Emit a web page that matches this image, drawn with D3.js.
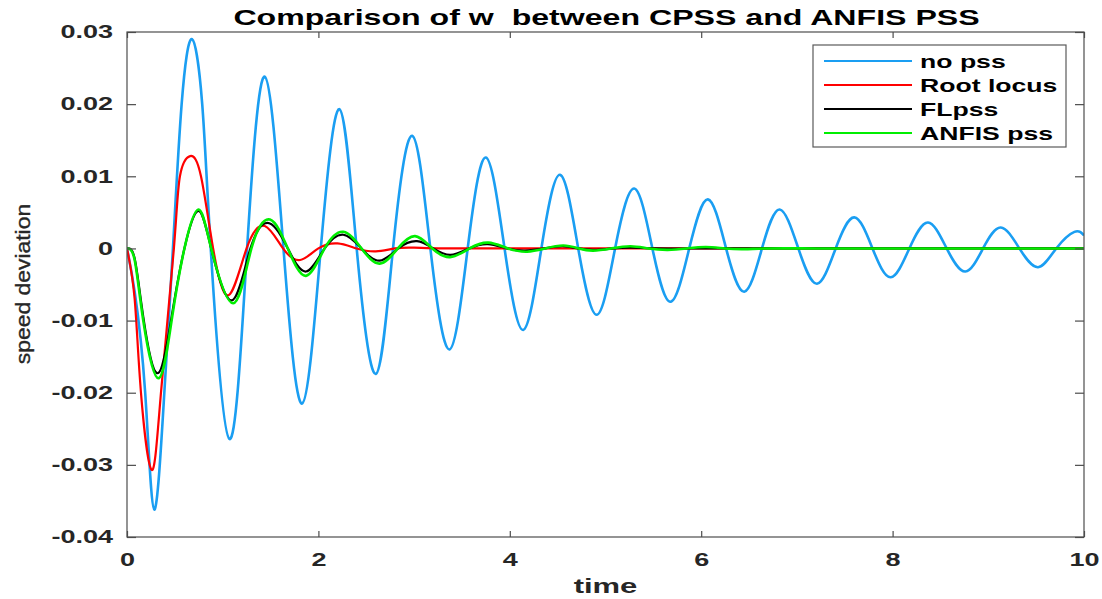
<!DOCTYPE html>
<html>
<head>
<meta charset="utf-8">
<script src="https://cdn.jsdelivr.net/npm/d3@7"></script>
<style>
  html, body { margin: 0; padding: 0; background: #fff; }
  svg { display: block; }
  text { font-family: "Liberation Sans", Arial, Helvetica, sans-serif; }
</style>
</head>
<body>
<svg id="chart" width="1102" height="599"></svg>
<script>
// ---------- data ----------
const titleText = "Comparison of w  between CPSS and ANFIS PSS";
const xLabelText = "time";
const yLabelText = "speed deviation";
const xTicks = [0, 2, 4, 6, 8, 10];
const yTicks = [0.03, 0.02, 0.01, 0, -0.01, -0.02, -0.03, -0.04];
const yTickLabels = ["0.03", "0.02", "0.01", "0", "-0.01", "-0.02", "-0.03", "-0.04"];
const seriesNames = ["no pss", "Root locus", "FLpss", "ANFIS pss"];
const seriesColors = ["#1a9ef2", "#ff0000", "#000000", "#00ee00"];

const tNoPss = [0, 0.08, 0.19, 0.285, 0.39, 0.48, 0.571, 0.68, 0.786, 0.875, 1.07, 1.255, 1.44, 1.635, 1.83, 2.025, 2.22, 2.4, 2.60, 2.78, 2.98, 3.17, 3.37, 3.56, 3.75, 3.945, 4.14, 4.33, 4.525, 4.715, 4.91, 5.10, 5.30, 5.49, 5.68, 5.875, 6.07, 6.26, 6.45, 6.635, 6.82, 7.015, 7.21, 7.405, 7.60, 7.79, 7.98, 8.175, 8.37, 8.565, 8.76, 8.945, 9.13, 9.325, 9.52, 9.71, 9.90, 10];
const vNoPss = [0, -0.006, -0.02, -0.0362, -0.02, 0, 0.02, 0.029, 0.02, 0, -0.0264, 0, 0.0238, 0, -0.0215, 0, 0.0193, 0, -0.0174, 0, 0.0156, 0, -0.014, 0, 0.0126, 0, -0.0113, 0, 0.0102, 0, -0.0092, 0, 0.0083, 0, -0.0074, 0, 0.0068, 0, -0.006, 0, 0.0054, 0, -0.0049, 0, 0.0043, 0, -0.004, 0, 0.0036, 0, -0.0032, 0, 0.0029, 0, -0.0026, 0, 0.0023, 0.0018];

const tRoot = [0, 0.08, 0.146, 0.258, 0.355, 0.49, 0.553, 0.66, 0.773, 0.90, 1.06, 1.25, 1.44, 1.63, 1.81, 2.0, 2.2, 2.4, 2.6, 2.8, 3.0, 3.3, 3.8, 4.5, 5.5, 7, 8.5, 10];
const vRoot = [0, -0.007, -0.02, -0.0307, -0.02, 0, 0.01, 0.0128, 0.01, 0, -0.0065, 0, 0.0031, 0, -0.0016, 0, 0.0007, 0, -0.0004, 0, 0.0001, 0, 0, 0, 0, 0, 0, 0];

const tFL = [0, 0.08, 0.17, 0.32, 0.466, 0.6, 0.745, 0.88, 1.094, 1.29, 1.487, 1.68, 1.87, 2.065, 2.26, 2.45, 2.64, 2.835, 3.03, 3.2, 3.38, 3.575, 3.77, 3.97, 4.16, 4.36, 4.55, 4.71, 4.88, 5.08, 5.27, 5.5, 6.0, 7, 8, 9, 10];
const vFL = [0, -0.0014, -0.0095, -0.0173, -0.0095, 0, 0.0052, 0, -0.0072, 0, 0.0035, 0, -0.0032, 0, 0.0019, 0, -0.0017, 0, 0.001, 0, -0.0009, 0, 0.0006, 0, -0.0003, 0, 0.0003, 0, -0.0002, 0, 0.0001, 0, 0, 0, 0, 0, 0];

const tANFIS = [0, 0.08, 0.17, 0.327, 0.466, 0.6, 0.745, 0.88, 1.11, 1.30, 1.494, 1.68, 1.87, 2.065, 2.26, 2.45, 2.64, 2.83, 3.01, 3.19, 3.375, 3.58, 3.775, 3.98, 4.18, 4.37, 4.56, 4.72, 4.87, 5.06, 5.26, 5.45, 5.65, 5.85, 6.05, 6.25, 6.45, 6.7, 7.2, 8, 9, 10];
const vANFIS = [0, -0.0016, -0.01, -0.018, -0.01, 0, 0.0054, 0, -0.0076, 0, 0.004, 0, -0.0038, 0, 0.0023, 0, -0.0021, 0, 0.0017, 0, -0.0012, 0, 0.0008, 0, -0.00045, 0, 0.0004, 0, -0.0003, 0, 0.0003, 0, -0.0002, 0, 0.0002, 0, -0.0001, 0, 0, 0, 0, 0];

// ---------- layout ----------
const svg = d3.select("#chart");
const L = 127, R = 1084, T = 32, B = 537;
const x = d3.scaleLinear().domain([0, 10]).range([L, R]);
const y = d3.scaleLinear().domain([-0.04, 0.03]).range([B, T]);
const axisColor = "#4d4d4d";
const textColor = "#262626";

svg.append("rect").attr("x", L).attr("y", T).attr("width", R - L).attr("height", B - T)
  .attr("fill", "#fff");

// ---------- series ----------
const series = [
  { name: seriesNames[0], t: tNoPss, v: vNoPss, color: seriesColors[0], w: 2.6 },
  { name: seriesNames[1], t: tRoot, v: vRoot, color: seriesColors[1], w: 2.2 },
  { name: seriesNames[2], t: tFL, v: vFL, color: seriesColors[2], w: 2.2 },
  { name: seriesNames[3], t: tANFIS, v: vANFIS, color: seriesColors[3], w: 2.6 }
];
const line = d3.line().x(d => x(d[0])).y(d => y(d[1])).curve(d3.curveNatural);
svg.append("defs").append("clipPath").attr("id", "clip")
  .append("rect").attr("x", L).attr("y", T).attr("width", R - L).attr("height", B - T);
const plot = svg.append("g").attr("clip-path", "url(#clip)");
series.forEach(s => {
  plot.append("path")
    .datum(s.t.map((t, i) => [t, s.v[i]]))
    .attr("d", line)
    .attr("fill", "none")
    .attr("stroke", s.color)
    .attr("stroke-width", s.w)
    .attr("stroke-linejoin", "round");
});

// ---------- axes ----------
const sxTick = 1.5;
function styleAxis(g) {
  g.select(".domain").remove();
  g.selectAll(".tick line").attr("stroke", axisColor).attr("stroke-width", 1.2);
  g.selectAll(".tick text").attr("fill", textColor).attr("font-size", 18)
    .attr("font-weight", "bold").attr("font-family", "Liberation Sans, Arial, sans-serif");
}
const xAxis = svg.append("g").attr("transform", `translate(0,${B})`)
  .call(d3.axisBottom(x).tickValues(xTicks).tickFormat(d3.format("d")).tickSizeInner(-6).tickSizeOuter(0).tickPadding(16));
styleAxis(xAxis);
xAxis.selectAll(".tick text").attr("transform", `scale(${sxTick},1)`);

const xAxisTop = svg.append("g").attr("transform", `translate(0,${T})`)
  .call(d3.axisTop(x).tickValues(xTicks).tickFormat("").tickSizeInner(-6).tickSizeOuter(0));
styleAxis(xAxisTop);

const yAxis = svg.append("g").attr("transform", `translate(${L},0)`)
  .call(d3.axisLeft(y).tickValues(yTicks).tickFormat((d, i) => yTickLabels[i]).tickSizeInner(-9).tickSizeOuter(0).tickPadding(14));
styleAxis(yAxis);
yAxis.selectAll(".tick text").attr("x", -14 / sxTick).attr("transform", `scale(${sxTick},1)`);

const yAxisRight = svg.append("g").attr("transform", `translate(${R},0)`)
  .call(d3.axisRight(y).tickValues(yTicks).tickFormat("").tickSizeInner(-9).tickSizeOuter(0));
styleAxis(yAxisRight);

svg.append("rect").attr("x", L).attr("y", T).attr("width", R - L).attr("height", B - T)
  .attr("fill", "none").attr("stroke", axisColor).attr("stroke-width", 1.2);

// ---------- title & labels ----------
svg.append("text")
  .attr("transform", `translate(${(L + R) / 2 + 1},25) scale(1.46,1)`)
  .attr("text-anchor", "middle").attr("font-size", 22).attr("font-weight", "bold")
  .attr("fill", "#000").attr("xml:space", "preserve").style("white-space", "pre")
  .text(titleText);

svg.append("text")
  .attr("transform", `translate(${(L + R) / 2},593) scale(1.55,1)`)
  .attr("text-anchor", "middle").attr("font-size", 20).attr("font-weight", "bold")
  .attr("fill", textColor).text(xLabelText);

svg.append("text")
  .attr("transform", `translate(30,284) rotate(-90) scale(1.09,1)`)
  .attr("text-anchor", "middle").attr("font-size", 21)
  .attr("fill", textColor).attr("stroke", textColor).attr("stroke-width", 0.35)
  .text(yLabelText);

// ---------- legend ----------
const lg = svg.append("g");
lg.append("rect").attr("x", 813).attr("y", 45).attr("width", 253).attr("height", 102)
  .attr("fill", "#fff").attr("stroke", "#5a5a5a").attr("stroke-width", 1.2);
const rowY = [61, 85, 109, 133];
series.forEach((s, i) => {
  lg.append("line").attr("x1", 824).attr("x2", 912).attr("y1", rowY[i]).attr("y2", rowY[i])
    .attr("stroke", s.color).attr("stroke-width", 2);
  lg.append("text")
    .attr("transform", `translate(920,${rowY[i] + 7}) scale(1.4,1)`)
    .attr("font-size", 19).attr("font-weight", "bold").attr("fill", "#000")
    .text(s.name);
});
</script>
</body>
</html>
